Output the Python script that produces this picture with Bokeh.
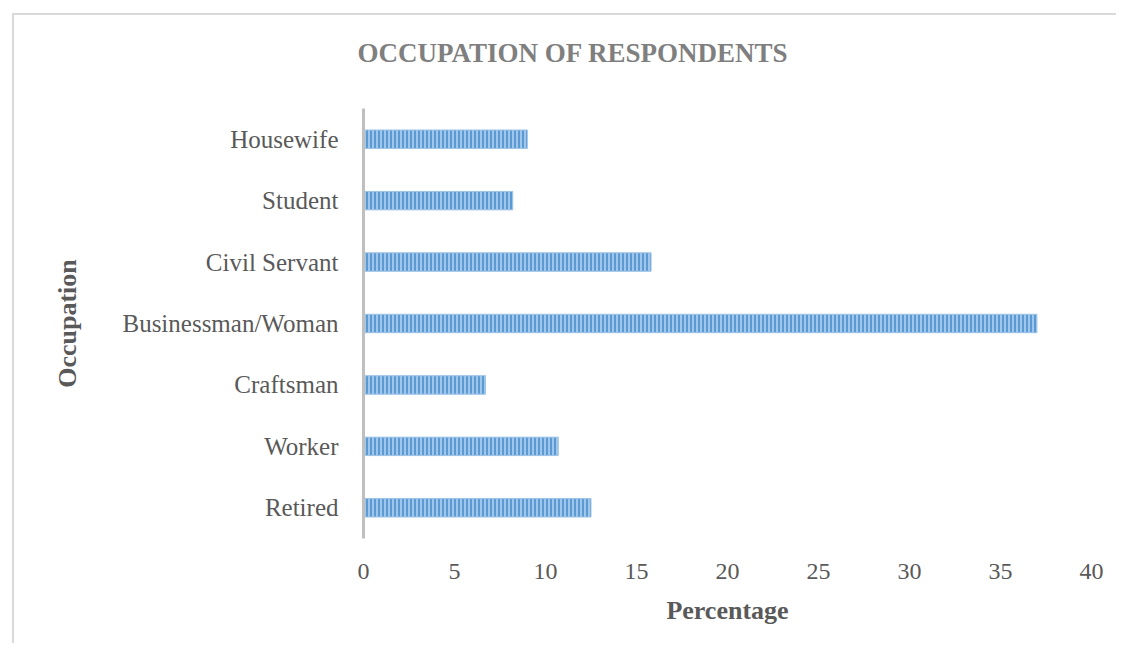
from bokeh.plotting import figure
from bokeh.models import FixedTicker, Range1d, FactorRange, Title
from bokeh.embed import file_html
from bokeh.resources import INLINE

# ---- data ----
categories = ["Retired", "Worker", "Craftsman", "Businessman/Woman",
              "Civil Servant", "Student", "Housewife"]
percentages = [12.5, 10.7, 6.7, 37.0, 15.8, 8.2, 9.0]
x_ticks = [0, 5, 10, 15, 20, 25, 30, 35, 40]
title_text = "OCCUPATION OF RESPONDENTS"

FONT = "Liberation Serif"
TEXT = "#595959"

p = figure(width=1104, height=630, output_backend="svg", toolbar_location=None,
           y_range=FactorRange(factors=categories), x_range=Range1d(0, 40),
           min_border_left=349, min_border_right=27, min_border_top=93,
           min_border_bottom=107)

p.hbar(y=categories, right=percentages, left=0, height=0.3,
       fill_color="#5b9bd5", line_color="#9dc3e6", line_width=1,
       hatch_pattern="vertical_line", hatch_color="#b8d5f2",
       hatch_scale=4, hatch_weight=1.5)

# spacer between the frame and the title (blank)
p.add_layout(Title(text=" ", text_font_size="10px", standoff=26), "above")

p.title = Title(text=title_text, align="left", offset=-6, vertical_align="top",
                text_font=FONT, text_font_size="27px", text_font_style="bold",
                text_color="#7f7f7f", standoff=0)

p.outline_line_color = None
p.grid.visible = False
p.background_fill_color = "white"
p.border_fill_color = "white"

xa = p.xaxis[0]
xa.ticker = FixedTicker(ticks=x_ticks)
xa.axis_line_color = None
xa.major_tick_line_color = None
xa.minor_tick_line_color = None
xa.major_label_text_font = FONT
xa.major_label_text_font_size = "24px"
xa.major_label_text_color = TEXT
xa.major_label_standoff = 19
xa.axis_label = "Percentage"
xa.axis_label_text_font = FONT
xa.axis_label_text_font_size = "26px"
xa.axis_label_text_font_style = "bold"
xa.axis_label_text_color = TEXT
xa.axis_label_standoff = 14

ya = p.yaxis[0]
ya.axis_line_color = "#bfbfbf"
ya.axis_line_width = 3
ya.major_tick_line_color = None
ya.minor_tick_line_color = None
ya.major_label_text_font = FONT
ya.major_label_text_font_size = "25px"
ya.major_label_text_color = TEXT
ya.major_label_standoff = 19
ya.axis_label = "Occupation"
ya.axis_label_text_font = FONT
ya.axis_label_text_font_size = "26px"
ya.axis_label_text_font_style = "bold"
ya.axis_label_text_color = TEXT
ya.axis_label_standoff = 37

p.styles = {"border-left": "2px solid #d9d9d9", "border-top": "2px solid #d9d9d9",
            "margin-left": "12px", "margin-top": "13px"}

open("out.html", "w").write(file_html(p, INLINE))
